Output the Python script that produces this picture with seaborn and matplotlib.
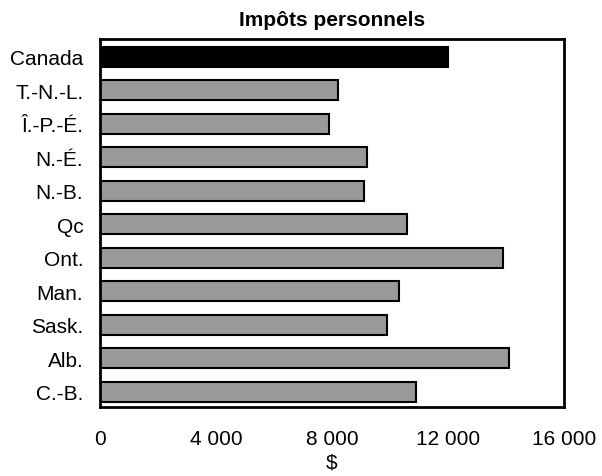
import matplotlib
matplotlib.use("Agg")
import matplotlib.pyplot as plt
import seaborn as sns
import pandas as pd

# Impôts personnels, en dollars
provinces = ["Canada", "T.-N.-L.", "Î.-P.-É.", "N.-É.", "N.-B.", "Qc",
             "Ont.", "Man.", "Sask.", "Alb.", "C.-B."]
impots = [12000, 8200, 7900, 9200, 9100, 10600, 13900, 10300, 9900, 14100, 10900]
xticks = [0, 4000, 8000, 12000, 16000]

df = pd.DataFrame({"province": provinces, "impots": impots})
colors = {p: ("black" if p == "Canada" else "#999999") for p in provinces}

sns.set_style("white")
plt.rcParams['font.family'] = ['Liberation Sans', 'DejaVu Sans']
plt.rcParams['text.color'] = 'black'
plt.rcParams['axes.labelcolor'] = 'black'

fig = plt.figure(figsize=(6.02, 4.77), dpi=100)
ax = fig.add_axes([0.166, 0.1447, 0.771, 0.7714])

sns.barplot(data=df, x="impots", y="province", hue="province", palette=colors,
            legend=False, width=0.6, edgecolor="black", linewidth=1.5,
            saturation=1, ax=ax)

ax.set_xlim(0, 16000)
ax.set_ylim(10.454, -0.528)
ax.set_xticks(xticks)
ax.set_xticklabels([f"{v:,}".replace(",", " ") for v in xticks], fontsize=15)
ax.tick_params(axis="x", direction="in", length=5, width=1.5, pad=16,
               color="black", labelcolor="black")
ax.tick_params(axis="y", length=0, pad=12, labelsize=15, labelcolor="black")

for sp in ax.spines.values():
    sp.set_visible(True)
    sp.set_color("black")
    sp.set_linewidth(2)

ax.set_xlabel("$", fontsize=15, labelpad=3, color="black")
ax.set_ylabel("")
ax.set_title("Impôts personnels", fontsize=15, fontweight="bold", pad=10,
             color="black")

fig.savefig("out.png", dpi=100)
